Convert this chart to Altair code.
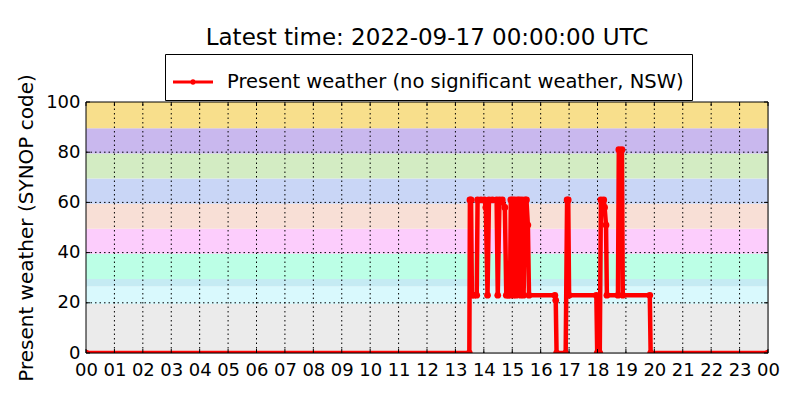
import altair as alt
import pandas as pd

# ---- data ----
hours = [0.00, 13.49, 13.51, 13.55, 13.58, 13.66, 13.75, 13.78, 13.90, 14.02, 14.07, 14.13,
         14.18, 14.30, 14.45, 14.49, 14.55, 14.65, 14.74, 14.79, 14.86, 14.92, 14.95, 15.01,
         15.04, 15.09, 15.14, 15.19, 15.25, 15.29, 15.34, 15.40, 15.45, 15.50, 15.55, 15.59,
         16.50, 16.53, 16.56, 16.88, 16.93, 16.97, 17.00, 17.96, 17.99, 18.08,
         18.12, 18.22, 18.25, 18.30, 18.33, 18.72, 18.75, 18.86, 18.89, 19.84, 19.87, 24.00]
codes = [0, 0, 61, 61, 23, 23, 23, 61, 61, 61, 58, 23,
         61, 61, 61, 23, 61, 61, 58, 23, 23, 23, 61, 61,
         23, 61, 23, 61, 61, 23, 61, 23, 61, 61, 51, 23,
         23, 21, 0, 0, 61, 61, 23, 23, 0, 0,
         61, 61, 58, 51, 23, 23, 81, 81, 23, 23, 0, 0]

band_lo = [0, 19.5, 26.5, 29.5, 39.5, 49.5, 59.5, 69.5, 79.5, 89.5]
band_hi = [19.5, 26.5, 29.5, 39.5, 49.5, 59.5, 69.5, 79.5, 89.5, 100]
band_colors = ["#ebebeb", "#d9f9fd", "#c5ebf3", "#bcffe6", "#fccdfc",
               "#f8dfd6", "#c9d6f6", "#d3ecc3", "#c9b8ee", "#f8df8c"]

x_ticks = list(range(0, 25))
y_ticks = [0, 20, 40, 60, 80, 100]
series_name = "Present weather (no significant weather, NSW)"
title_text = "Latest time: 2022-09-17 00:00:00 UTC"
y_title = "Present weather (SYNOP code)"

FONT = "DejaVu Sans"
W, H = 682, 251
XMIN, XMAX = 0, 24
YMIN, YMAX = 0, 100
tick_dx = (XMAX - XMIN) * 4 / W
tick_dy = (YMAX - YMIN) * 4 / H

# ---- tables ----
series = pd.DataFrame({"h": hours, "code": codes, "series": series_name})
bands = pd.DataFrame({"lo": band_lo, "hi": band_hi, "col": band_colors,
                      "x0": XMIN, "x1": XMAX})
vgrid = pd.DataFrame({"h": x_ticks[1:-1], "y0": YMIN, "y1": YMAX})
hgrid = pd.DataFrame({"v": y_ticks[1:-1], "x0": XMIN, "x1": XMAX})
xt = pd.DataFrame({"h": x_ticks * 2,
                   "y0": [YMIN] * len(x_ticks) + [YMAX - tick_dy] * len(x_ticks),
                   "y1": [YMIN + tick_dy] * len(x_ticks) + [YMAX] * len(x_ticks)})
yt = pd.DataFrame({"v": y_ticks * 2,
                   "x0": [XMIN] * len(y_ticks) + [XMAX - tick_dx] * len(y_ticks),
                   "x1": [XMIN + tick_dx] * len(y_ticks) + [XMAX] * len(y_ticks)})
frame = pd.DataFrame({"x0": [XMIN], "x1": [XMAX], "y0": [YMIN], "y1": [YMAX]})

xscale = alt.Scale(domain=[XMIN, XMAX], nice=False, zero=False)
yscale = alt.Scale(domain=[YMIN, YMAX], nice=False, zero=False)

xaxis = alt.Axis(values=x_ticks, grid=False, ticks=False, domain=False, title=None,
                 labelExpr="datum.value == 24 ? '00' : (datum.value < 10 ? '0' + datum.value : '' + datum.value)",
                 labelFontSize=18, labelFont=FONT, labelColor="black", labelPadding=8,
                 labelFlush=False, labelOverlap=False)
yaxis = alt.Axis(values=y_ticks, grid=False, ticks=False, domain=False, title=y_title,
                 labelFontSize=18, labelFont=FONT, labelColor="black", labelPadding=6,
                 titleFontSize=20, titleFont=FONT, titleFontWeight="normal",
                 titleColor="black", titlePadding=9)

band_layer = alt.Chart(bands).mark_rect().encode(
    x=alt.X("x0:Q", scale=xscale, axis=xaxis), x2="x1:Q",
    y=alt.Y("lo:Q", scale=yscale, axis=yaxis), y2="hi:Q",
    fill=alt.Fill("col:N", scale=None),
)

dash = [1.5, 3]
vgrid_layer = alt.Chart(vgrid).mark_rule(color="black", strokeWidth=1, strokeDash=dash).encode(
    x=alt.X("h:Q", scale=xscale, axis=xaxis),
    y=alt.Y("y0:Q", scale=yscale, axis=yaxis), y2="y1:Q")
hgrid_layer = alt.Chart(hgrid).mark_rule(color="black", strokeWidth=1, strokeDash=dash).encode(
    y=alt.Y("v:Q", scale=yscale, axis=yaxis),
    x=alt.X("x0:Q", scale=xscale, axis=xaxis), x2="x1:Q")

xt_layer = alt.Chart(xt).mark_rule(color="black", strokeWidth=1).encode(
    x=alt.X("h:Q", scale=xscale, axis=xaxis),
    y=alt.Y("y0:Q", scale=yscale, axis=yaxis), y2="y1:Q")
yt_layer = alt.Chart(yt).mark_rule(color="black", strokeWidth=1).encode(
    y=alt.Y("v:Q", scale=yscale, axis=yaxis),
    x=alt.X("x0:Q", scale=xscale, axis=xaxis), x2="x1:Q")

legend = alt.Legend(
    title=None, orient="none", legendX=79, legendY=-48,
    padding=8, strokeColor="black", fillColor="white", cornerRadius=0,
    labelFont=FONT, labelFontSize=19.5, labelColor="black", labelOffset=14,
    labelLimit=800,
    symbolType="M-1,-0.07 L1,-0.07 L1,0.07 L-1,0.07 Z M0.14,0 A0.14,0.14 0 1,1 -0.14,0 A0.14,0.14 0 1,1 0.14,0 Z",
    symbolSize=1600, symbolFillColor="red", symbolStrokeWidth=0, symbolOpacity=1,
)

line_layer = alt.Chart(series).mark_line(strokeWidth=4.5, clip=True).encode(
    x=alt.X("h:Q", scale=xscale, axis=xaxis),
    y=alt.Y("code:Q", scale=yscale, axis=yaxis),
    color=alt.Color("series:N", scale=alt.Scale(domain=[series_name], range=["#ff0000"]),
                    legend=legend),
)
point_layer = alt.Chart(series).mark_circle(size=45, opacity=1, color="#ff0000", clip=True).encode(
    x=alt.X("h:Q", scale=xscale, axis=xaxis),
    y=alt.Y("code:Q", scale=yscale, axis=yaxis),
)

frame_layer = alt.Chart(frame).mark_rect(fill=None, stroke="black", strokeWidth=1).encode(
    x=alt.X("x0:Q", scale=xscale, axis=xaxis), x2="x1:Q",
    y=alt.Y("y0:Q", scale=yscale, axis=yaxis), y2="y1:Q")

chart = alt.layer(
    band_layer, vgrid_layer, hgrid_layer, line_layer, point_layer,
    xt_layer, yt_layer, frame_layer,
).properties(
    width=W, height=H,
    autosize=alt.AutoSizeParams(type="none"),
    padding={"left": 78, "top": 94, "right": 24, "bottom": 40},
    title=alt.TitleParams(title_text, font=FONT, fontSize=23, fontWeight="normal",
                          color="black", anchor="middle", frame="group",
                          baseline="alphabetic", offset=10, dy=24),
).configure_view(stroke=None).configure(background="white")

chart.save("out.html", embed_options={"renderer": "svg", "actions": False})
